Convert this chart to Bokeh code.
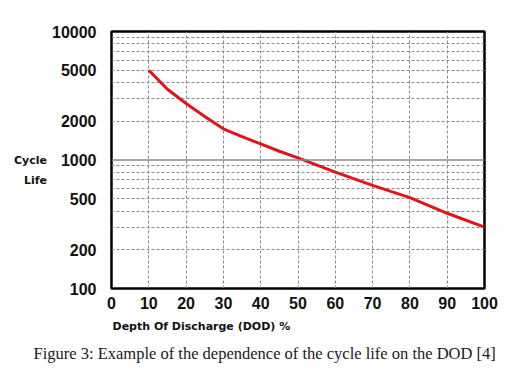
from bokeh.plotting import figure
from bokeh.models import FixedTicker, PrintfTickFormatter, Span, Range1d, Title
from bokeh.embed import file_html
from bokeh.resources import INLINE

# data
dod = [10, 15, 20, 25, 30, 35, 40, 45, 50, 60, 70, 80, 90, 100]
cycles = [5000, 3550, 2750, 2180, 1750, 1520, 1335, 1170, 1040, 805, 635, 510, 385, 300]

x_ticks = [0, 10, 20, 30, 40, 50, 60, 70, 80, 90, 100]
y_ticks = [100, 200, 500, 1000, 2000, 5000, 10000]
x_grid = [10, 20, 30, 40, 50, 60, 70, 80, 90]
y_grid = [200, 300, 400, 500, 600, 700, 800, 900,
          2000, 3000, 4000, 5000, 6000, 7000, 8000, 9000]
y_solid = 1000

y_title = "\nCycle\nLife"
x_title = "Depth Of Discharge (DOD) %"
caption = "Figure 3: Example of the dependence of the cycle life on the DOD [4]"

W, H = 530, 375
L, R, T, B = 111, 484, 31, 288

p = figure(width=W, height=H, y_axis_type="log",
           x_range=Range1d(0, 100), y_range=Range1d(100, 10000),
           output_backend="svg", toolbar_location=None,
           min_border_left=L, min_border_right=W - R,
           min_border_top=T, min_border_bottom=H - B)
p.background_fill_color = "white"
p.border_fill_color = "white"
p.outline_line_color = "black"
p.outline_line_width = 2.5

tick_font = "Liberation Sans"
lab_font = "DejaVu Sans"
for ax in (p.xaxis[0], p.yaxis[0]):
    ax.axis_line_color = None
    ax.major_tick_line_color = None
    ax.minor_tick_line_color = None
    ax.major_label_text_font = tick_font
    ax.major_label_text_font_style = "bold"
    ax.major_label_text_font_size = "16px"
    ax.major_label_text_color = "#111111"

p.xaxis.ticker = FixedTicker(ticks=x_ticks)
p.yaxis.ticker = FixedTicker(ticks=y_ticks)
p.yaxis.formatter = PrintfTickFormatter(format="%d")
p.xaxis.major_label_standoff = 2
p.yaxis.major_label_standoff = 9

p.yaxis.axis_label = y_title
p.yaxis.axis_label_orientation = "horizontal"
p.yaxis.axis_label_text_font = lab_font
p.yaxis.axis_label_text_font_style = "bold"
p.yaxis.axis_label_text_font_size = "11px"
p.yaxis.axis_label_text_line_height = 1.55
p.yaxis.axis_label_text_color = "#111111"
p.yaxis.axis_label_standoff = 2

p.xgrid.ticker = FixedTicker(ticks=x_grid)
p.ygrid.ticker = FixedTicker(ticks=y_grid)
for g in (p.xgrid[0], p.ygrid[0]):
    g.grid_line_color = "#8a8a8a"
    g.grid_line_dash = "3 2"
    g.grid_line_width = 1

p.add_layout(Span(location=y_solid, dimension="width",
                  line_color="#8a8a8a", line_width=1.5))

p.line(dod, cycles, line_color="#e0141b", line_width=3)

t1 = Title(text=x_title, align="left", offset=1, standoff=13,
           text_font=lab_font, text_font_style="bold",
           text_font_size="11px", text_color="#111111")
t2 = Title(text=caption, align="left", offset=-78, standoff=5,
           text_font="Liberation Serif", text_font_style="normal",
           text_font_size="16.5px", text_color="#1a1a1a")
p.add_layout(t1, "below")
p.add_layout(t2, "below")

open("out.html", "w").write(file_html(p, INLINE))
